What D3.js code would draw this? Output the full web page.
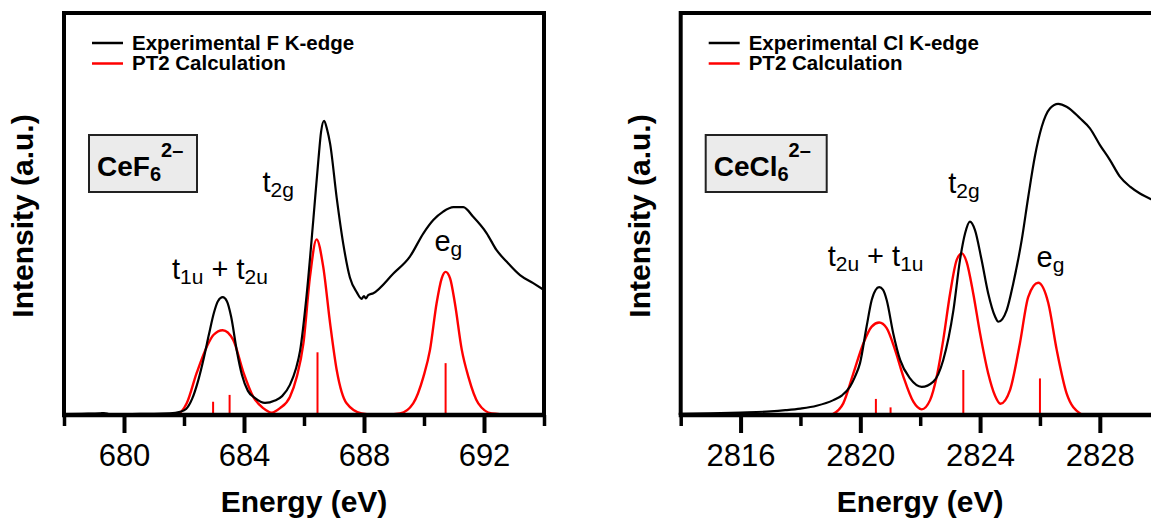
<!DOCTYPE html>
<html>
<head>
<meta charset="utf-8">
<script src="https://d3js.org/d3.v7.min.js"></script>
<style>
  html, body { margin: 0; padding: 0; background: #fff; }
  svg { display: block; font-family: "Liberation Sans", Arial, Helvetica, sans-serif; }
</style>
</head>
<body>
<script>
// Ce hexahalide ligand K-edge XAS, experiment vs PT2 calculation.
// Intensities are in arbitrary units, 0 = baseline, 100 = top of the frame.

// ---- CeF6 2- (F K-edge) ----
const fExpEnergy = [678.00, 678.60, 679.20, 679.33, 679.53, 680.00, 680.53, 681.00, 681.53, 681.87,
  682.07, 682.27, 682.47, 682.67, 682.83, 683.00, 683.13, 683.29, 683.43, 683.57,
  683.76, 683.93, 684.13, 684.37, 684.70, 685.03, 685.27, 685.53, 685.73, 685.87,
  686.09, 686.31, 686.48, 686.57, 686.67, 686.77, 686.87, 687.09, 687.31, 687.53,
  687.76, 687.92, 688.00, 688.06, 688.14, 688.31, 688.98, 689.53, 689.98, 690.31,
  690.64, 690.98, 691.31, 691.64, 692.09, 692.42, 692.76, 693.20, 693.64, 694.00];
const fExpIntensity = [0.2, 0.3, 0.4, 0.5, 0.2, 0.2, 0.3, 0.3, 0.4, 0.8,
  1.5, 4.0, 8.5, 14.5, 20.0, 25.5, 28.3, 29.3, 28.3, 24.5,
  16.0, 10.0, 6.0, 4.2, 3.0, 3.6, 4.7, 7.5, 11.5, 16.0,
  30.0, 48.5, 63.5, 70.5, 73.2, 71.0, 67.5, 54.0, 42.5, 34.2,
  30.5, 28.9, 29.6, 29.0, 29.8, 30.3, 35.2, 39.4, 45.2, 48.5,
  50.6, 51.7, 51.7, 49.3, 45.2, 41.0, 38.1, 34.8, 32.8, 31.1];

const fCalcEnergy = [680.45, 681.00, 681.50, 681.82, 682.09, 682.42, 682.76, 682.98, 683.29, 683.64,
  683.98, 684.31, 684.64, 684.92, 685.20, 685.53, 685.76, 685.98, 686.20, 686.42,
  686.64, 686.87, 687.09, 687.42, 687.92, 688.50, 689.20, 689.64, 689.98, 690.20,
  690.42, 690.59, 690.72, 690.87, 691.03, 691.26, 691.48, 691.81, 692.26, 693.20];
const fCalcIntensity = [0, 0, 0.1, 0.4, 2.9, 10.4, 17.0, 19.9, 21.1, 18.7,
  10.6, 4.5, 1.7, 0.6, 1.7, 4.5, 9.5, 17.8, 34.4, 43.7,
  36.9, 22.8, 11.2, 2.9, 0.4, 0, 0.4, 2.9, 9.5, 16.2,
  27.8, 34.0, 35.6, 34.0, 27.8, 16.2, 9.5, 2.9, 0.4, 0];

const fStickEnergy = [682.97, 683.52, 686.45, 690.72];
const fStickIntensity = [3.3, 5.0, 15.6, 12.9];

// ---- CeCl6 2- (Cl K-edge) ----
const clExpEnergy = [2814.00, 2815.00, 2816.00, 2817.00, 2817.50, 2818.00, 2818.54, 2819.10, 2819.39, 2819.65, 2819.82,
  2819.99, 2820.21, 2820.38, 2820.51, 2820.63, 2820.76, 2820.88, 2821.10, 2821.33, 2821.66,
  2822.05, 2822.44, 2822.77, 2823.11, 2823.33, 2823.50, 2823.66, 2823.83, 2824.05, 2824.27,
  2824.50, 2824.61, 2824.89, 2825.11, 2825.39, 2825.61, 2825.83, 2826.06, 2826.34, 2826.61,
  2826.89, 2827.34, 2827.67, 2828.00, 2828.34, 2828.67, 2829.01, 2829.34, 2829.71, 2830.00];
const clExpIntensity = [0.3, 0.4, 0.6, 0.9, 1.2, 1.6, 2.3, 3.7, 4.9, 7.0, 9.5,
  12.9, 22.0, 28.6, 31.1, 31.8, 31.1, 28.6, 20.3, 13.7, 9.1,
  7.0, 8.3, 13.7, 26.1, 38.6, 45.2, 48.1, 46.0, 38.6, 30.3,
  24.5, 23.2, 26.1, 32.8, 43.5, 54.3, 64.3, 71.7, 76.3, 77.4,
  76.7, 73.8, 71.3, 67.2, 63.4, 59.3, 56.8, 55.1, 53.7, 52.8];

const clCalcEnergy = [2819.00, 2819.10, 2819.43, 2819.77, 2820.10, 2820.38, 2820.63, 2820.88, 2821.16, 2821.44,
  2821.77, 2822.05, 2822.33, 2822.55, 2822.77, 2823.00, 2823.22, 2823.39, 2823.55, 2823.77,
  2824.00, 2824.27, 2824.50, 2824.68, 2825.00, 2825.33, 2825.61, 2825.94, 2826.28, 2826.56,
  2826.89, 2827.34, 2827.45];
const clCalcIntensity = [0, 0.3, 2.9, 10.4, 17.8, 22.0, 23.0, 21.6, 16.2, 9.5,
  3.3, 1.4, 3.7, 9.5, 18.7, 30.3, 38.6, 40.2, 38.1, 30.3,
  20.3, 10.4, 4.8, 2.8, 6.2, 17.8, 29.4, 32.9, 27.8, 16.2,
  5.4, 0.4, 0];

const clStickEnergy = [2820.52, 2821.01, 2823.44, 2826.00];
const clStickIntensity = [4.0, 1.9, 11.2, 9.1];

// Ticks
const fMajorTicks = [680, 684, 688, 692];
const fMinorTicks = [678, 682, 686, 690, 694];
const clMajorTicks = [2816, 2820, 2824, 2828];
const clMinorTicks = [2814, 2818, 2822, 2826, 2830];

// Text
const fLegend = ['Experimental F K-edge', 'PT2 Calculation'];
const clLegend = ['Experimental Cl K-edge', 'PT2 Calculation'];

let width = 1151,
    height = 518,
    yTop = 13,
    yBase = 415;

let black = '#000',
    red = '#ff0000';

let svg = d3.select('body').append('svg')
  .attr('width', width)
  .attr('height', height);

let y = d3.scaleLinear().domain([0, 100]).range([yBase, yTop]);

function zip(xs, ys) { return xs.map((e, i) => ({ e: e, v: ys[i] })); }

// parts: [[text, 'sub'|'sup'|''], ...]
function richText(sel, parts, mainSize, smallSize) {
  let shift = 0;
  parts.forEach(function(p) {
    let target = p[1] == 'sub' ? 5 : (p[1] == 'sup' ? -19 : 0);
    sel.append('tspan')
      .attr('dy', target - shift)
      .attr('font-size', p[1] ? smallSize : mainSize)
      .text(p[0]);
    shift = target;
  });
}

function drawPanel(p) {
  let x = d3.scaleLinear().domain(p.domain).range(p.range);
  let x0 = p.range[0], x1 = p.range[1];
  let g = svg.append('g');

  // Axis ticks
  let minor = d3.axisBottom(x).tickValues(p.minor).tickSize(11).tickSizeOuter(0).tickFormat('');
  let major = d3.axisBottom(x).tickValues(p.major).tickSize(18).tickSizeOuter(0).tickPadding(11).tickFormat(d3.format('d'));

  let gMinor = g.append('g').attr('transform', `translate(0,${yBase})`).call(minor);
  gMinor.select('.domain').remove();
  gMinor.selectAll('.tick line').attr('stroke', black).attr('stroke-width', 3.5);

  let gMajor = g.append('g').attr('transform', `translate(0,${yBase})`).call(major);
  gMajor.select('.domain').remove();
  gMajor.selectAll('.tick line').attr('stroke', black).attr('stroke-width', 4);
  gMajor.selectAll('.tick text')
    .attr('font-size', 31)
    .attr('font-family', '"Liberation Sans", Arial, Helvetica, sans-serif')
    .attr('fill', black);

  // Curves
  let line = d3.line().x(d => x(d.e)).y(d => y(d.v)).curve(d3.curveMonotoneX);

  g.append('path')
    .datum(zip(p.calcE, p.calcI))
    .attr('fill', 'none').attr('stroke', red).attr('stroke-width', 2.4)
    .attr('d', line);

  g.selectAll('line.stick')
    .data(zip(p.stickE, p.stickI))
    .enter().append('line')
    .attr('class', 'stick')
    .attr('x1', d => x(d.e)).attr('x2', d => x(d.e))
    .attr('y1', y(0)).attr('y2', d => y(d.v))
    .attr('stroke', red).attr('stroke-width', 2);

  g.append('path')
    .datum(zip(p.expE, p.expI))
    .attr('fill', 'none').attr('stroke', black).attr('stroke-width', 2.2)
    .attr('stroke-linejoin', 'round')
    .attr('d', line);

  // Frame
  g.append('line').attr('x1', x0).attr('x2', x1).attr('y1', yTop).attr('y2', yTop).attr('stroke', black).attr('stroke-width', 4);
  g.append('line').attr('x1', x0).attr('x2', x0).attr('y1', yTop - 2).attr('y2', yBase).attr('stroke', black).attr('stroke-width', 4);
  g.append('line').attr('x1', x1).attr('x2', x1).attr('y1', yTop - 2).attr('y2', yBase).attr('stroke', black).attr('stroke-width', 4);
  g.append('line').attr('x1', x0 - 2).attr('x2', x1 + 2).attr('y1', yBase).attr('y2', yBase).attr('stroke', black).attr('stroke-width', 4.5);

  // Legend
  let legendColors = [black, red];
  p.legend.forEach(function(label, i) {
    let ly = 43 + i * 20.5;
    g.append('line').attr('x1', x0 + 28).attr('x2', x0 + 59).attr('y1', ly).attr('y2', ly)
      .attr('stroke', legendColors[i]).attr('stroke-width', 2.5);
    g.append('text').attr('x', x0 + 68).attr('y', ly + 6.5)
      .attr('font-size', 20.5).attr('font-weight', 'bold').attr('fill', black)
      .text(label);
  });

  // Compound box
  g.append('rect')
    .attr('x', x0 + 25).attr('y', 135)
    .attr('width', p.boxWidth).attr('height', 57)
    .attr('fill', '#ebebeb').attr('stroke', '#222').attr('stroke-width', 2);
  let boxText = g.append('text')
    .attr('x', x0 + 33).attr('y', 176)
    .attr('font-weight', 'bold').attr('fill', black);
  richText(boxText, p.compound, 28, 20);

  // Peak labels
  p.peaks.forEach(function(pk) {
    let t = g.append('text')
      .attr('x', x(pk.e)).attr('y', y(pk.v))
      .attr('text-anchor', 'middle').attr('fill', black);
    richText(t, pk.parts, 29, 21);
  });

  // Axis titles
  g.append('text')
    .attr('transform', `translate(${x0 - 31},216) rotate(-90)`)
    .attr('text-anchor', 'middle')
    .attr('font-size', 30).attr('font-weight', 'bold').attr('fill', black)
    .text('Intensity (a.u.)');

  g.append('text')
    .attr('x', (x0 + x1) / 2).attr('y', 512)
    .attr('text-anchor', 'middle')
    .attr('font-size', 30).attr('font-weight', 'bold').attr('fill', black)
    .text('Energy (eV)');
}

drawPanel({
  domain: [678, 694], range: [64, 544],
  major: fMajorTicks, minor: fMinorTicks,
  expE: fExpEnergy, expI: fExpIntensity,
  calcE: fCalcEnergy, calcI: fCalcIntensity,
  stickE: fStickEnergy, stickI: fStickIntensity,
  legend: fLegend,
  boxWidth: 108,
  compound: [['CeF', ''], ['6', 'sub'], ['2\u2013', 'sup']],
  peaks: [
    { e: 683.2, v: 33.8, parts: [['t', ''], ['1u', 'sub'], [' + t', ''], ['2u', 'sub']] },
    { e: 685.14, v: 55.5, parts: [['t', ''], ['2g', 'sub']] },
    { e: 690.81, v: 40.8, parts: [['e', ''], ['g', 'sub']] }
  ]
});

drawPanel({
  domain: [2814, 2830], range: [680.7, 1159.7],
  major: clMajorTicks, minor: clMinorTicks,
  expE: clExpEnergy, expI: clExpIntensity,
  calcE: clCalcEnergy, calcI: clCalcIntensity,
  stickE: clStickEnergy, stickI: clStickIntensity,
  legend: clLegend,
  boxWidth: 121,
  compound: [['CeCl', ''], ['6', 'sub'], ['2\u2013', 'sup']],
  peaks: [
    { e: 2820.51, v: 37.1, parts: [['t', ''], ['2u', 'sub'], [' + t', ''], ['1u', 'sub']] },
    { e: 2823.46, v: 55.3, parts: [['t', ''], ['2g', 'sub']] },
    { e: 2826.35, v: 36.9, parts: [['e', ''], ['g', 'sub']] }
  ]
});
</script>
</body>
</html>
